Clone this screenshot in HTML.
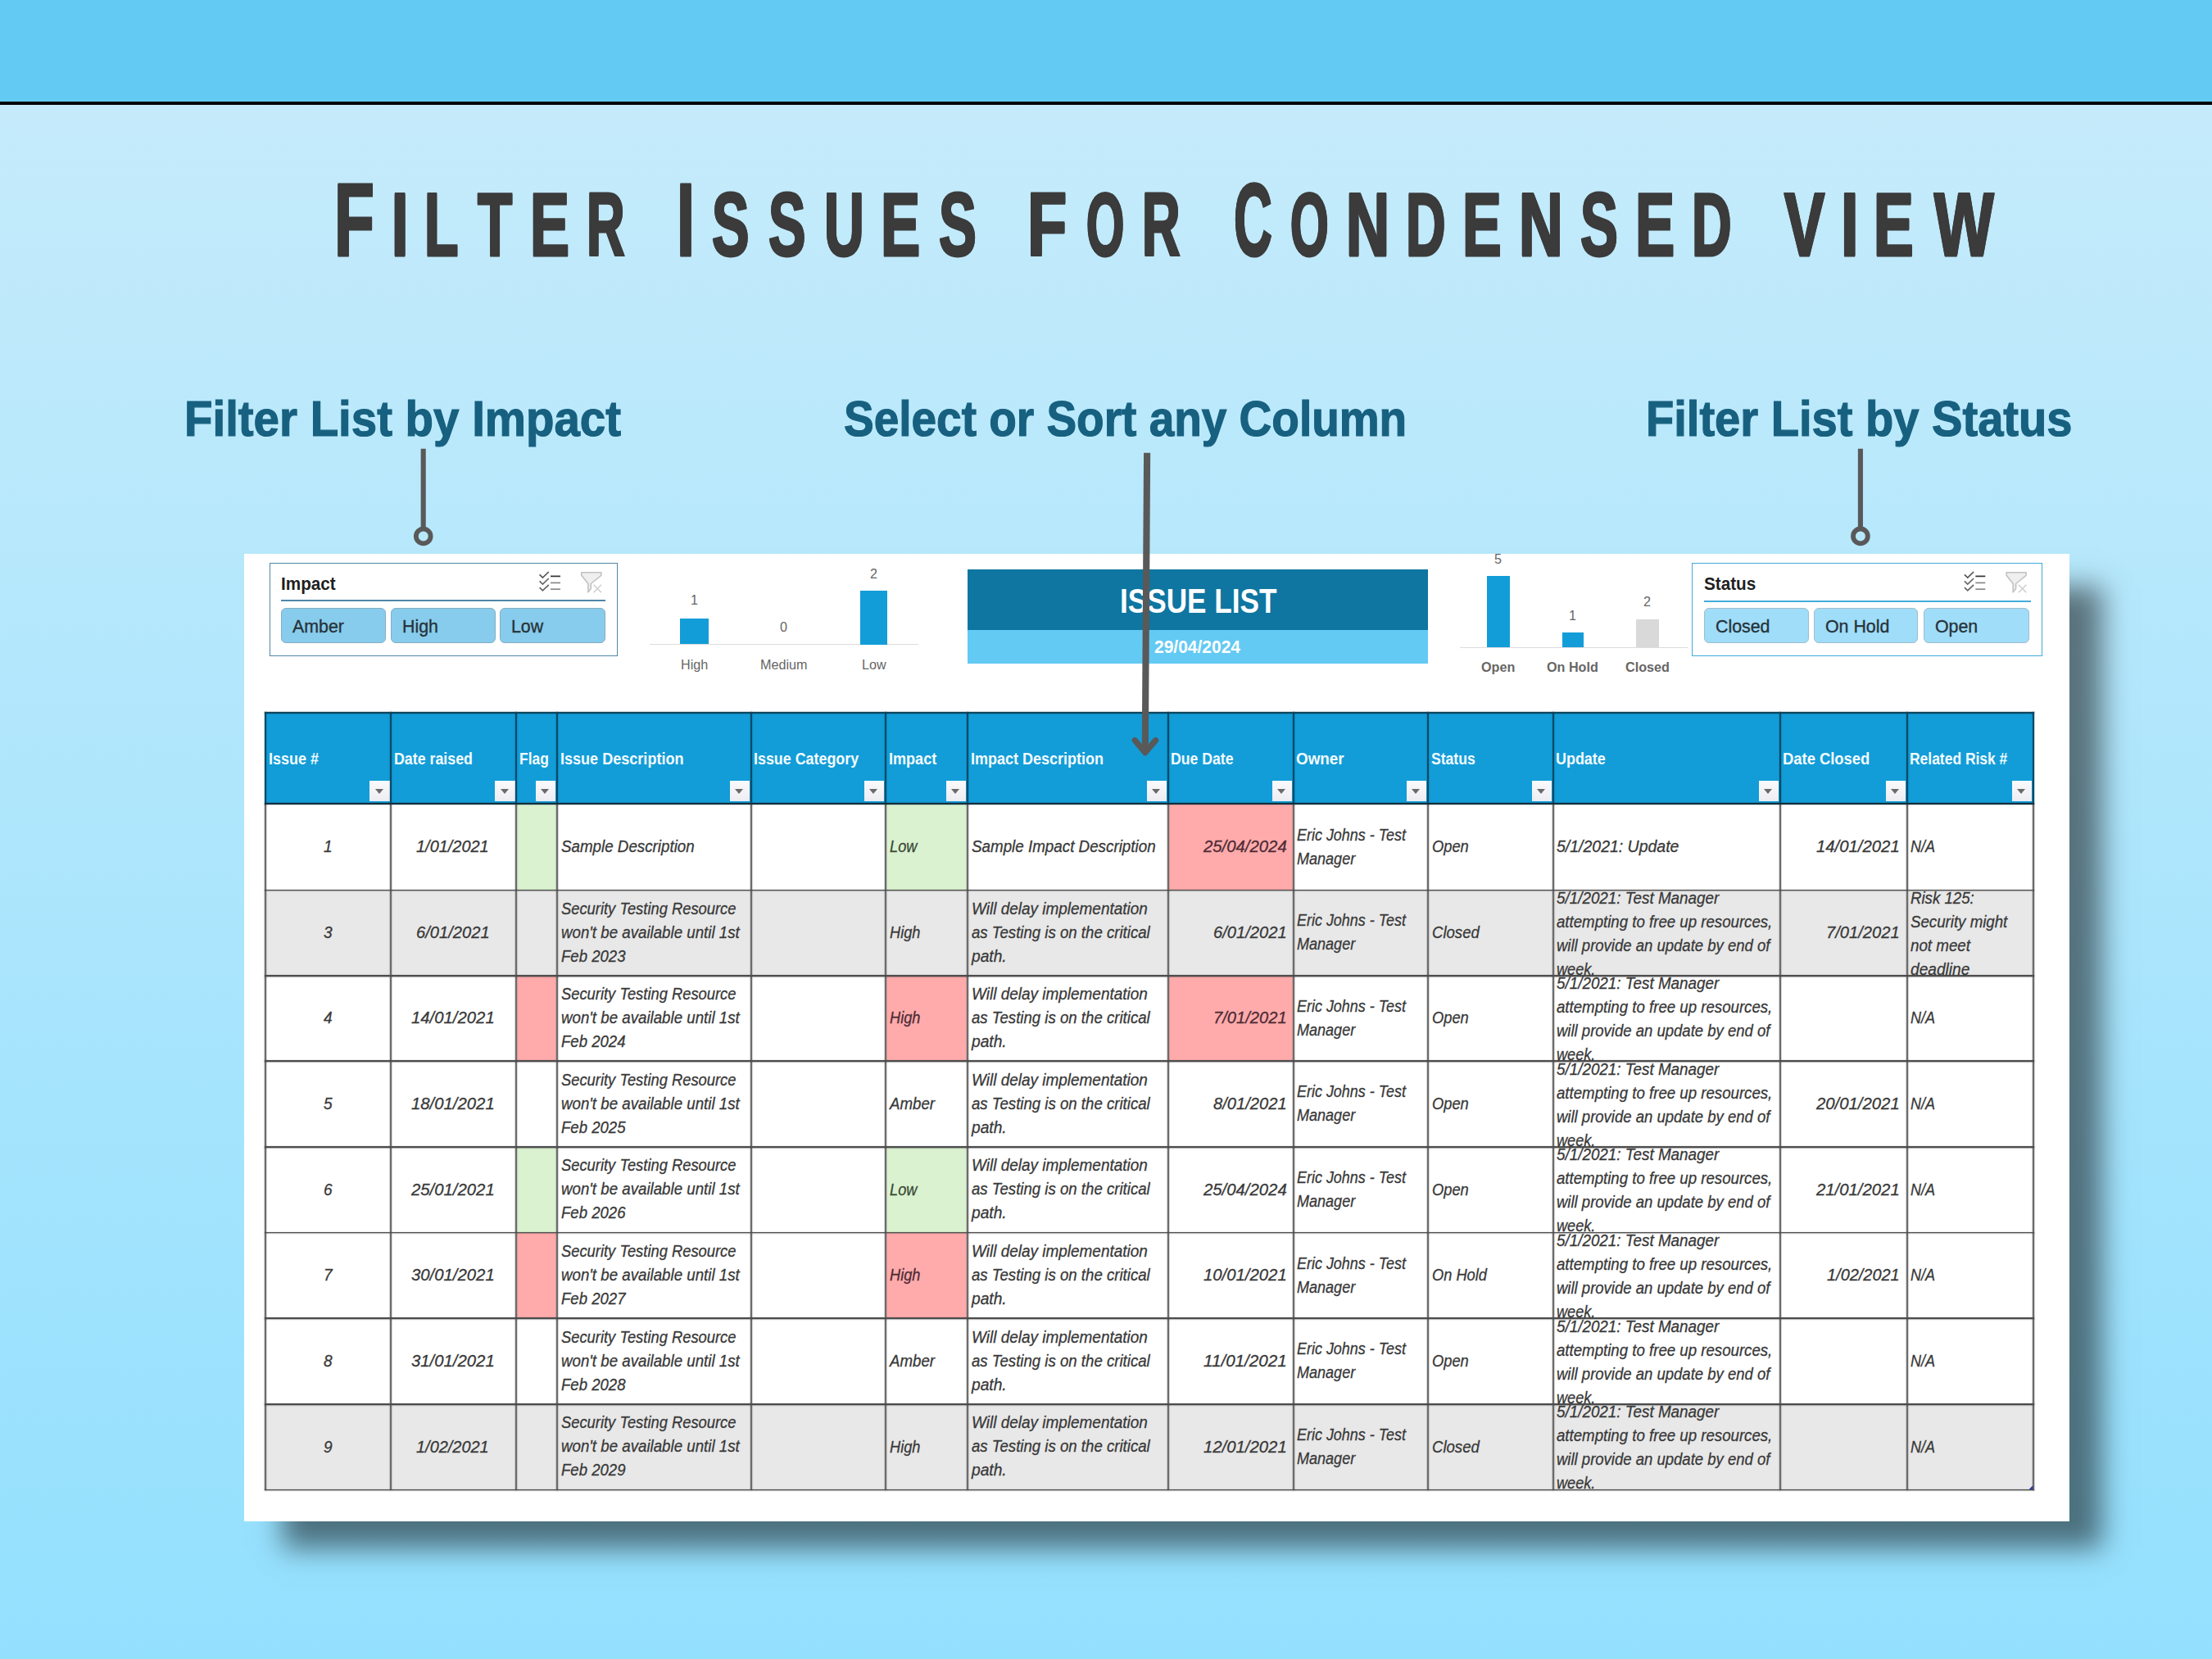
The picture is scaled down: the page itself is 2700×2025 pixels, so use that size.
<!DOCTYPE html>
<html><head><meta charset="utf-8"><title>Filter Issues for Condensed view</title>
<style>
html,body{margin:0;padding:0}
html,body{width:2700px;height:2025px}
body{font-family:"Liberation Sans", sans-serif;}
#page{position:relative;width:2700px;height:2025px;overflow:hidden;background:linear-gradient(to bottom,#c5ebfb 0px,#c5ebfb 128px,#93e0fe 2025px);}
</style></head><body><div id="page">
<div style="position:absolute;left:0.0px;top:0.0px;width:2700.0px;height:124.5px;background:#63caf3;"></div>
<div style="position:absolute;left:0.0px;top:124.2px;width:2700.0px;height:4.0px;background:#05050a;"></div>
<span style="position:absolute;left:407.97px;top:192.51px;font-size:126.45px;line-height:151.74px;font-weight:bold;color:#3b3b3b;-webkit-text-stroke:3.0px #3b3b3b;text-shadow:1.7px 0 0 #3b3b3b,-1.7px 0 0 #3b3b3b;transform:scaleX(0.6336);transform-origin:0 0;white-space:nowrap">F</span>
<span style="position:absolute;left:478.25px;top:208.75px;font-size:109.30px;line-height:131.16px;font-weight:bold;color:#3b3b3b;-webkit-text-stroke:3.0px #3b3b3b;text-shadow:1.7px 0 0 #3b3b3b,-1.7px 0 0 #3b3b3b;transform:scaleX(0.6683);transform-origin:0 0;white-space:nowrap">I</span>
<span style="position:absolute;left:518.45px;top:208.75px;font-size:109.30px;line-height:131.16px;font-weight:bold;color:#3b3b3b;-webkit-text-stroke:3.0px #3b3b3b;text-shadow:1.7px 0 0 #3b3b3b,-1.7px 0 0 #3b3b3b;transform:scaleX(0.6209);transform-origin:0 0;white-space:nowrap">L</span>
<span style="position:absolute;left:583.25px;top:208.75px;font-size:109.30px;line-height:131.16px;font-weight:bold;color:#3b3b3b;-webkit-text-stroke:3.0px #3b3b3b;text-shadow:1.7px 0 0 #3b3b3b,-1.7px 0 0 #3b3b3b;transform:scaleX(0.6317);transform-origin:0 0;white-space:nowrap">T</span>
<span style="position:absolute;left:646.59px;top:208.75px;font-size:109.30px;line-height:131.16px;font-weight:bold;color:#3b3b3b;-webkit-text-stroke:3.0px #3b3b3b;text-shadow:1.7px 0 0 #3b3b3b,-1.7px 0 0 #3b3b3b;transform:scaleX(0.6586);transform-origin:0 0;white-space:nowrap">E</span>
<span style="position:absolute;left:716.27px;top:208.75px;font-size:109.30px;line-height:131.16px;font-weight:bold;color:#3b3b3b;-webkit-text-stroke:3.0px #3b3b3b;text-shadow:1.7px 0 0 #3b3b3b,-1.7px 0 0 #3b3b3b;transform:scaleX(0.5912);transform-origin:0 0;white-space:nowrap">R</span>
<span style="position:absolute;left:825.61px;top:192.51px;font-size:126.45px;line-height:151.74px;font-weight:bold;color:#3b3b3b;-webkit-text-stroke:3.0px #3b3b3b;text-shadow:1.7px 0 0 #3b3b3b,-1.7px 0 0 #3b3b3b;transform:scaleX(0.6256);transform-origin:0 0;white-space:nowrap">I</span>
<span style="position:absolute;left:868.93px;top:208.75px;font-size:109.30px;line-height:131.16px;font-weight:bold;color:#3b3b3b;-webkit-text-stroke:3.0px #3b3b3b;text-shadow:1.7px 0 0 #3b3b3b,-1.7px 0 0 #3b3b3b;transform:scaleX(0.6232);transform-origin:0 0;white-space:nowrap">S</span>
<span style="position:absolute;left:938.33px;top:208.75px;font-size:109.30px;line-height:131.16px;font-weight:bold;color:#3b3b3b;-webkit-text-stroke:3.0px #3b3b3b;text-shadow:1.7px 0 0 #3b3b3b,-1.7px 0 0 #3b3b3b;transform:scaleX(0.6232);transform-origin:0 0;white-space:nowrap">S</span>
<span style="position:absolute;left:1005.92px;top:208.75px;font-size:109.30px;line-height:131.16px;font-weight:bold;color:#3b3b3b;-webkit-text-stroke:3.0px #3b3b3b;text-shadow:1.7px 0 0 #3b3b3b,-1.7px 0 0 #3b3b3b;transform:scaleX(0.6172);transform-origin:0 0;white-space:nowrap">U</span>
<span style="position:absolute;left:1074.69px;top:208.75px;font-size:109.30px;line-height:131.16px;font-weight:bold;color:#3b3b3b;-webkit-text-stroke:3.0px #3b3b3b;text-shadow:1.7px 0 0 #3b3b3b,-1.7px 0 0 #3b3b3b;transform:scaleX(0.6600);transform-origin:0 0;white-space:nowrap">E</span>
<span style="position:absolute;left:1145.83px;top:208.75px;font-size:109.30px;line-height:131.16px;font-weight:bold;color:#3b3b3b;-webkit-text-stroke:3.0px #3b3b3b;text-shadow:1.7px 0 0 #3b3b3b,-1.7px 0 0 #3b3b3b;transform:scaleX(0.6288);transform-origin:0 0;white-space:nowrap">S</span>
<span style="position:absolute;left:1254.04px;top:208.75px;font-size:109.30px;line-height:131.16px;font-weight:bold;color:#3b3b3b;-webkit-text-stroke:3.0px #3b3b3b;text-shadow:1.7px 0 0 #3b3b3b,-1.7px 0 0 #3b3b3b;transform:scaleX(0.7195);transform-origin:0 0;white-space:nowrap">F</span>
<span style="position:absolute;left:1325.60px;top:208.75px;font-size:109.30px;line-height:131.16px;font-weight:bold;color:#3b3b3b;-webkit-text-stroke:3.0px #3b3b3b;text-shadow:1.7px 0 0 #3b3b3b,-1.7px 0 0 #3b3b3b;transform:scaleX(0.5440);transform-origin:0 0;white-space:nowrap">O</span>
<span style="position:absolute;left:1393.57px;top:208.75px;font-size:109.30px;line-height:131.16px;font-weight:bold;color:#3b3b3b;-webkit-text-stroke:3.0px #3b3b3b;text-shadow:1.7px 0 0 #3b3b3b,-1.7px 0 0 #3b3b3b;transform:scaleX(0.5899);transform-origin:0 0;white-space:nowrap">R</span>
<span style="position:absolute;left:1505.68px;top:192.51px;font-size:126.45px;line-height:151.74px;font-weight:bold;color:#3b3b3b;-webkit-text-stroke:3.0px #3b3b3b;text-shadow:1.7px 0 0 #3b3b3b,-1.7px 0 0 #3b3b3b;transform:scaleX(0.5130);transform-origin:0 0;white-space:nowrap">C</span>
<span style="position:absolute;left:1575.40px;top:208.75px;font-size:109.30px;line-height:131.16px;font-weight:bold;color:#3b3b3b;-webkit-text-stroke:3.0px #3b3b3b;text-shadow:1.7px 0 0 #3b3b3b,-1.7px 0 0 #3b3b3b;transform:scaleX(0.5489);transform-origin:0 0;white-space:nowrap">O</span>
<span style="position:absolute;left:1642.54px;top:208.75px;font-size:109.30px;line-height:131.16px;font-weight:bold;color:#3b3b3b;-webkit-text-stroke:3.0px #3b3b3b;text-shadow:1.7px 0 0 #3b3b3b,-1.7px 0 0 #3b3b3b;transform:scaleX(0.6723);transform-origin:0 0;white-space:nowrap">N</span>
<span style="position:absolute;left:1715.57px;top:208.75px;font-size:109.30px;line-height:131.16px;font-weight:bold;color:#3b3b3b;-webkit-text-stroke:3.0px #3b3b3b;text-shadow:1.7px 0 0 #3b3b3b,-1.7px 0 0 #3b3b3b;transform:scaleX(0.6155);transform-origin:0 0;white-space:nowrap">D</span>
<span style="position:absolute;left:1784.81px;top:208.75px;font-size:109.30px;line-height:131.16px;font-weight:bold;color:#3b3b3b;-webkit-text-stroke:3.0px #3b3b3b;text-shadow:1.7px 0 0 #3b3b3b,-1.7px 0 0 #3b3b3b;transform:scaleX(0.6541);transform-origin:0 0;white-space:nowrap">E</span>
<span style="position:absolute;left:1853.81px;top:208.75px;font-size:109.30px;line-height:131.16px;font-weight:bold;color:#3b3b3b;-webkit-text-stroke:3.0px #3b3b3b;text-shadow:1.7px 0 0 #3b3b3b,-1.7px 0 0 #3b3b3b;transform:scaleX(0.6793);transform-origin:0 0;white-space:nowrap">N</span>
<span style="position:absolute;left:1928.83px;top:208.75px;font-size:109.30px;line-height:131.16px;font-weight:bold;color:#3b3b3b;-webkit-text-stroke:3.0px #3b3b3b;text-shadow:1.7px 0 0 #3b3b3b,-1.7px 0 0 #3b3b3b;transform:scaleX(0.6288);transform-origin:0 0;white-space:nowrap">S</span>
<span style="position:absolute;left:1995.69px;top:208.75px;font-size:109.30px;line-height:131.16px;font-weight:bold;color:#3b3b3b;-webkit-text-stroke:3.0px #3b3b3b;text-shadow:1.7px 0 0 #3b3b3b,-1.7px 0 0 #3b3b3b;transform:scaleX(0.6600);transform-origin:0 0;white-space:nowrap">E</span>
<span style="position:absolute;left:2065.47px;top:208.75px;font-size:109.30px;line-height:131.16px;font-weight:bold;color:#3b3b3b;-webkit-text-stroke:3.0px #3b3b3b;text-shadow:1.7px 0 0 #3b3b3b,-1.7px 0 0 #3b3b3b;transform:scaleX(0.6155);transform-origin:0 0;white-space:nowrap">D</span>
<span style="position:absolute;left:2177.65px;top:208.75px;font-size:109.30px;line-height:131.16px;font-weight:bold;color:#3b3b3b;-webkit-text-stroke:3.0px #3b3b3b;text-shadow:1.7px 0 0 #3b3b3b,-1.7px 0 0 #3b3b3b;transform:scaleX(0.6734);transform-origin:0 0;white-space:nowrap">V</span>
<span style="position:absolute;left:2247.20px;top:208.75px;font-size:109.30px;line-height:131.16px;font-weight:bold;color:#3b3b3b;-webkit-text-stroke:3.0px #3b3b3b;text-shadow:1.7px 0 0 #3b3b3b,-1.7px 0 0 #3b3b3b;transform:scaleX(0.7045);transform-origin:0 0;white-space:nowrap">I</span>
<span style="position:absolute;left:2286.96px;top:208.75px;font-size:109.30px;line-height:131.16px;font-weight:bold;color:#3b3b3b;-webkit-text-stroke:3.0px #3b3b3b;text-shadow:1.7px 0 0 #3b3b3b,-1.7px 0 0 #3b3b3b;transform:scaleX(0.6674);transform-origin:0 0;white-space:nowrap">E</span>
<span style="position:absolute;left:2361.28px;top:208.75px;font-size:109.30px;line-height:131.16px;font-weight:bold;color:#3b3b3b;-webkit-text-stroke:3.0px #3b3b3b;text-shadow:1.7px 0 0 #3b3b3b,-1.7px 0 0 #3b3b3b;transform:scaleX(0.7032);transform-origin:0 0;white-space:nowrap">W</span>
<div style="position:absolute;left:297.5px;top:675.5px;width:2228.8px;height:1181.5px;background:#fff;box-shadow:43px 36.5px 32px -3.5px rgba(0,0,0,0.50);"></div>
<div style="position:absolute;left:328.8px;top:687.0px;width:425.2px;height:113.8px;background:#fff;box-sizing:border-box;border:1.8px solid #4f86a8;"></div>
<div style="position:absolute;left:343.3px;top:732.0px;width:396.2px;height:1.6px;background:#4f86a8;"></div>
<div style="position:absolute;left:343.0px;top:741.7px;width:128.0px;height:42.9px;background:#87ccec;box-sizing:border-box;border:1.5px solid #86adc2;border-radius:6px;"></div>
<div style="position:absolute;left:477.0px;top:741.7px;width:127.6px;height:42.9px;background:#87ccec;box-sizing:border-box;border:1.5px solid #86adc2;border-radius:6px;"></div>
<div style="position:absolute;left:610.0px;top:741.7px;width:129.0px;height:42.9px;background:#87ccec;box-sizing:border-box;border:1.5px solid #86adc2;border-radius:6px;"></div>
<div style="position:absolute;left:2065.3px;top:687.0px;width:428.2px;height:113.8px;background:#fff;box-sizing:border-box;border:1.7px solid #43abdb;"></div>
<div style="position:absolute;left:2079.8px;top:733.3px;width:399.2px;height:1.6px;background:#43abdb;"></div>
<div style="position:absolute;left:2080.3px;top:741.7px;width:127.4px;height:42.9px;background:#9fddf9;box-sizing:border-box;border:1.5px solid #a2bccb;border-radius:6px;"></div>
<div style="position:absolute;left:2214.2px;top:741.7px;width:127.3px;height:42.9px;background:#9fddf9;box-sizing:border-box;border:1.5px solid #a2bccb;border-radius:6px;"></div>
<div style="position:absolute;left:2347.6px;top:741.7px;width:129.4px;height:42.9px;background:#9fddf9;box-sizing:border-box;border:1.5px solid #a2bccb;border-radius:6px;"></div>
<div style="position:absolute;left:793.0px;top:786.2px;width:328.0px;height:1.2px;background:#dcdcdc;"></div>
<div style="position:absolute;left:830.4px;top:754.7px;width:34.2px;height:31.8px;background:#139dd8;"></div>
<div style="position:absolute;left:1049.7px;top:720.5px;width:33.8px;height:66.0px;background:#139dd8;"></div>
<div style="position:absolute;left:1782.0px;top:789.6px;width:278.0px;height:1.2px;background:#dcdcdc;"></div>
<div style="position:absolute;left:1814.8px;top:702.6px;width:28.0px;height:87.1px;background:#139dd8;"></div>
<div style="position:absolute;left:1906.7px;top:772.2px;width:26.3px;height:17.5px;background:#139dd8;"></div>
<div style="position:absolute;left:1997.0px;top:756.4px;width:27.7px;height:33.3px;background:#d9d9d9;"></div>
<div style="position:absolute;left:1180.5px;top:695.0px;width:562.5px;height:73.8px;background:#0f76a1;"></div>
<div style="position:absolute;left:1180.5px;top:768.6px;width:562.5px;height:41.4px;background:#63caf3;"></div>
<div style="position:absolute;left:323.5px;top:870.0px;width:2158.5px;height:111.4px;background:#129dd8;"></div>
<div style="position:absolute;left:630.2px;top:981.4px;width:49.8px;height:104.9px;background:#daf2d0;"></div>
<div style="position:absolute;left:1081.0px;top:981.4px;width:100.0px;height:104.9px;background:#daf2d0;"></div>
<div style="position:absolute;left:1425.6px;top:981.4px;width:152.9px;height:104.9px;background:#ffabab;"></div>
<div style="position:absolute;left:323.5px;top:1086.3px;width:2158.5px;height:104.5px;background:#e8e8e8;"></div>
<div style="position:absolute;left:630.2px;top:1190.8px;width:49.8px;height:104.4px;background:#ffabab;"></div>
<div style="position:absolute;left:1081.0px;top:1190.8px;width:100.0px;height:104.4px;background:#ffabab;"></div>
<div style="position:absolute;left:1425.6px;top:1190.8px;width:152.9px;height:104.4px;background:#ffabab;"></div>
<div style="position:absolute;left:630.2px;top:1399.8px;width:49.8px;height:104.8px;background:#daf2d0;"></div>
<div style="position:absolute;left:1081.0px;top:1399.8px;width:100.0px;height:104.8px;background:#daf2d0;"></div>
<div style="position:absolute;left:630.2px;top:1504.6px;width:49.8px;height:104.4px;background:#ffabab;"></div>
<div style="position:absolute;left:1081.0px;top:1504.6px;width:100.0px;height:104.4px;background:#ffabab;"></div>
<div style="position:absolute;left:323.5px;top:1713.8px;width:2158.5px;height:104.6px;background:#e8e8e8;"></div>
<div style="position:absolute;left:451.4px;top:953.2px;width:24.2px;height:25.0px;background:linear-gradient(#fbfbfd,#ececf2);"></div>
<div style="position:absolute;left:457.6px;top:963.2px;width:0;height:0;border-left:5.8px solid transparent;border-right:5.8px solid transparent;border-top:6.6px solid #6a6a6a"></div>
<div style="position:absolute;left:604.4px;top:953.2px;width:24.2px;height:25.0px;background:linear-gradient(#fbfbfd,#ececf2);"></div>
<div style="position:absolute;left:610.6px;top:963.2px;width:0;height:0;border-left:5.8px solid transparent;border-right:5.8px solid transparent;border-top:6.6px solid #6a6a6a"></div>
<div style="position:absolute;left:654.2px;top:953.2px;width:24.2px;height:25.0px;background:linear-gradient(#fbfbfd,#ececf2);"></div>
<div style="position:absolute;left:660.4px;top:963.2px;width:0;height:0;border-left:5.8px solid transparent;border-right:5.8px solid transparent;border-top:6.6px solid #6a6a6a"></div>
<div style="position:absolute;left:890.7px;top:953.2px;width:24.2px;height:25.0px;background:linear-gradient(#fbfbfd,#ececf2);"></div>
<div style="position:absolute;left:896.9px;top:963.2px;width:0;height:0;border-left:5.8px solid transparent;border-right:5.8px solid transparent;border-top:6.6px solid #6a6a6a"></div>
<div style="position:absolute;left:1055.2px;top:953.2px;width:24.2px;height:25.0px;background:linear-gradient(#fbfbfd,#ececf2);"></div>
<div style="position:absolute;left:1061.4px;top:963.2px;width:0;height:0;border-left:5.8px solid transparent;border-right:5.8px solid transparent;border-top:6.6px solid #6a6a6a"></div>
<div style="position:absolute;left:1155.2px;top:953.2px;width:24.2px;height:25.0px;background:linear-gradient(#fbfbfd,#ececf2);"></div>
<div style="position:absolute;left:1161.4px;top:963.2px;width:0;height:0;border-left:5.8px solid transparent;border-right:5.8px solid transparent;border-top:6.6px solid #6a6a6a"></div>
<div style="position:absolute;left:1399.8px;top:953.2px;width:24.2px;height:25.0px;background:linear-gradient(#fbfbfd,#ececf2);"></div>
<div style="position:absolute;left:1406.0px;top:963.2px;width:0;height:0;border-left:5.8px solid transparent;border-right:5.8px solid transparent;border-top:6.6px solid #6a6a6a"></div>
<div style="position:absolute;left:1552.7px;top:953.2px;width:24.2px;height:25.0px;background:linear-gradient(#fbfbfd,#ececf2);"></div>
<div style="position:absolute;left:1558.9px;top:963.2px;width:0;height:0;border-left:5.8px solid transparent;border-right:5.8px solid transparent;border-top:6.6px solid #6a6a6a"></div>
<div style="position:absolute;left:1717.2px;top:953.2px;width:24.2px;height:25.0px;background:linear-gradient(#fbfbfd,#ececf2);"></div>
<div style="position:absolute;left:1723.4px;top:963.2px;width:0;height:0;border-left:5.8px solid transparent;border-right:5.8px solid transparent;border-top:6.6px solid #6a6a6a"></div>
<div style="position:absolute;left:1869.8px;top:953.2px;width:24.2px;height:25.0px;background:linear-gradient(#fbfbfd,#ececf2);"></div>
<div style="position:absolute;left:1876.0px;top:963.2px;width:0;height:0;border-left:5.8px solid transparent;border-right:5.8px solid transparent;border-top:6.6px solid #6a6a6a"></div>
<div style="position:absolute;left:2146.8px;top:953.2px;width:24.2px;height:25.0px;background:linear-gradient(#fbfbfd,#ececf2);"></div>
<div style="position:absolute;left:2153.0px;top:963.2px;width:0;height:0;border-left:5.8px solid transparent;border-right:5.8px solid transparent;border-top:6.6px solid #6a6a6a"></div>
<div style="position:absolute;left:2301.8px;top:953.2px;width:24.2px;height:25.0px;background:linear-gradient(#fbfbfd,#ececf2);"></div>
<div style="position:absolute;left:2308.0px;top:963.2px;width:0;height:0;border-left:5.8px solid transparent;border-right:5.8px solid transparent;border-top:6.6px solid #6a6a6a"></div>
<div style="position:absolute;left:2456.2px;top:953.2px;width:24.2px;height:25.0px;background:linear-gradient(#fbfbfd,#ececf2);"></div>
<div style="position:absolute;left:2462.4px;top:963.2px;width:0;height:0;border-left:5.8px solid transparent;border-right:5.8px solid transparent;border-top:6.6px solid #6a6a6a"></div>
<div style="position:absolute;left:322.5px;top:869.0px;width:2.0px;height:113.4px;background:#064a68;box-shadow:0 0 1px 0.2px rgba(6,74,104,.7);"></div>
<div style="position:absolute;left:322.5px;top:982.4px;width:2.0px;height:836.8px;background:#6c6c6c;box-shadow:0 0 1px 0.3px rgba(105,105,105,.75);"></div>
<div style="position:absolute;left:476.2px;top:869.0px;width:2.0px;height:113.4px;background:#064a68;box-shadow:0 0 1px 0.2px rgba(6,74,104,.7);"></div>
<div style="position:absolute;left:476.2px;top:982.4px;width:2.0px;height:836.8px;background:#6c6c6c;box-shadow:0 0 1px 0.3px rgba(105,105,105,.75);"></div>
<div style="position:absolute;left:629.2px;top:869.0px;width:2.0px;height:113.4px;background:#064a68;box-shadow:0 0 1px 0.2px rgba(6,74,104,.7);"></div>
<div style="position:absolute;left:629.2px;top:982.4px;width:2.0px;height:836.8px;background:#6c6c6c;box-shadow:0 0 1px 0.3px rgba(105,105,105,.75);"></div>
<div style="position:absolute;left:679.0px;top:869.0px;width:2.0px;height:113.4px;background:#064a68;box-shadow:0 0 1px 0.2px rgba(6,74,104,.7);"></div>
<div style="position:absolute;left:679.0px;top:982.4px;width:2.0px;height:836.8px;background:#6c6c6c;box-shadow:0 0 1px 0.3px rgba(105,105,105,.75);"></div>
<div style="position:absolute;left:915.5px;top:869.0px;width:2.0px;height:113.4px;background:#064a68;box-shadow:0 0 1px 0.2px rgba(6,74,104,.7);"></div>
<div style="position:absolute;left:915.5px;top:982.4px;width:2.0px;height:836.8px;background:#6c6c6c;box-shadow:0 0 1px 0.3px rgba(105,105,105,.75);"></div>
<div style="position:absolute;left:1080.0px;top:869.0px;width:2.0px;height:113.4px;background:#064a68;box-shadow:0 0 1px 0.2px rgba(6,74,104,.7);"></div>
<div style="position:absolute;left:1080.0px;top:982.4px;width:2.0px;height:836.8px;background:#6c6c6c;box-shadow:0 0 1px 0.3px rgba(105,105,105,.75);"></div>
<div style="position:absolute;left:1180.0px;top:869.0px;width:2.0px;height:113.4px;background:#064a68;box-shadow:0 0 1px 0.2px rgba(6,74,104,.7);"></div>
<div style="position:absolute;left:1180.0px;top:982.4px;width:2.0px;height:836.8px;background:#6c6c6c;box-shadow:0 0 1px 0.3px rgba(105,105,105,.75);"></div>
<div style="position:absolute;left:1424.6px;top:869.0px;width:2.0px;height:113.4px;background:#064a68;box-shadow:0 0 1px 0.2px rgba(6,74,104,.7);"></div>
<div style="position:absolute;left:1424.6px;top:982.4px;width:2.0px;height:836.8px;background:#6c6c6c;box-shadow:0 0 1px 0.3px rgba(105,105,105,.75);"></div>
<div style="position:absolute;left:1577.5px;top:869.0px;width:2.0px;height:113.4px;background:#064a68;box-shadow:0 0 1px 0.2px rgba(6,74,104,.7);"></div>
<div style="position:absolute;left:1577.5px;top:982.4px;width:2.0px;height:836.8px;background:#6c6c6c;box-shadow:0 0 1px 0.3px rgba(105,105,105,.75);"></div>
<div style="position:absolute;left:1742.0px;top:869.0px;width:2.0px;height:113.4px;background:#064a68;box-shadow:0 0 1px 0.2px rgba(6,74,104,.7);"></div>
<div style="position:absolute;left:1742.0px;top:982.4px;width:2.0px;height:836.8px;background:#6c6c6c;box-shadow:0 0 1px 0.3px rgba(105,105,105,.75);"></div>
<div style="position:absolute;left:1894.6px;top:869.0px;width:2.0px;height:113.4px;background:#064a68;box-shadow:0 0 1px 0.2px rgba(6,74,104,.7);"></div>
<div style="position:absolute;left:1894.6px;top:982.4px;width:2.0px;height:836.8px;background:#6c6c6c;box-shadow:0 0 1px 0.3px rgba(105,105,105,.75);"></div>
<div style="position:absolute;left:2171.6px;top:869.0px;width:2.0px;height:113.4px;background:#064a68;box-shadow:0 0 1px 0.2px rgba(6,74,104,.7);"></div>
<div style="position:absolute;left:2171.6px;top:982.4px;width:2.0px;height:836.8px;background:#6c6c6c;box-shadow:0 0 1px 0.3px rgba(105,105,105,.75);"></div>
<div style="position:absolute;left:2326.6px;top:869.0px;width:2.0px;height:113.4px;background:#064a68;box-shadow:0 0 1px 0.2px rgba(6,74,104,.7);"></div>
<div style="position:absolute;left:2326.6px;top:982.4px;width:2.0px;height:836.8px;background:#6c6c6c;box-shadow:0 0 1px 0.3px rgba(105,105,105,.75);"></div>
<div style="position:absolute;left:2481.0px;top:869.0px;width:2.0px;height:113.4px;background:#064a68;box-shadow:0 0 1px 0.2px rgba(6,74,104,.7);"></div>
<div style="position:absolute;left:2481.0px;top:982.4px;width:2.0px;height:836.8px;background:#6c6c6c;box-shadow:0 0 1px 0.3px rgba(105,105,105,.75);"></div>
<div style="position:absolute;left:322.5px;top:869.0px;width:2160.5px;height:2.0px;background:#0d4560;box-shadow:0 0 1px 0.2px rgba(20,50,64,.6);"></div>
<div style="position:absolute;left:322.5px;top:980.4px;width:2160.5px;height:2.0px;background:#14303c;box-shadow:0 0 1px 0.2px rgba(20,50,64,.6);"></div>
<div style="position:absolute;left:322.5px;top:1085.5px;width:2160.5px;height:1.6px;background:#4c4c4c;box-shadow:0 0.2px 1.2px 0.2px rgba(70,70,70,.7);"></div>
<div style="position:absolute;left:322.5px;top:1190.0px;width:2160.5px;height:1.6px;background:#4c4c4c;box-shadow:0 0.2px 1.2px 0.2px rgba(70,70,70,.7);"></div>
<div style="position:absolute;left:322.5px;top:1294.4px;width:2160.5px;height:1.6px;background:#4c4c4c;box-shadow:0 0.2px 1.2px 0.2px rgba(70,70,70,.7);"></div>
<div style="position:absolute;left:322.5px;top:1399.0px;width:2160.5px;height:1.6px;background:#4c4c4c;box-shadow:0 0.2px 1.2px 0.2px rgba(70,70,70,.7);"></div>
<div style="position:absolute;left:322.5px;top:1503.8px;width:2160.5px;height:1.6px;background:#4c4c4c;box-shadow:0 0.2px 1.2px 0.2px rgba(70,70,70,.7);"></div>
<div style="position:absolute;left:322.5px;top:1608.2px;width:2160.5px;height:1.6px;background:#4c4c4c;box-shadow:0 0.2px 1.2px 0.2px rgba(70,70,70,.7);"></div>
<div style="position:absolute;left:322.5px;top:1713.0px;width:2160.5px;height:1.6px;background:#4c4c4c;box-shadow:0 0.2px 1.2px 0.2px rgba(70,70,70,.7);"></div>
<div style="position:absolute;left:322.5px;top:1817.6px;width:2160.5px;height:1.6px;background:#4c4c4c;box-shadow:0 0.2px 1.2px 0.2px rgba(70,70,70,.7);"></div>
<div style="position:absolute;left:2476.5px;top:1813.0px;width:5.0px;height:5.0px;background:#2f3e9e;clip-path:polygon(100% 0,100% 100%,0 100%);"></div>
<span style="position:absolute;left:225.2px;top:473.8px;font-size:62px;font-weight:bold;font-style:normal;letter-spacing:0px;white-space:nowrap;line-height:74.4px;color:#17607f;transform:scaleX(0.9101);transform-origin:0 0;-webkit-text-stroke:1.2px #17607f;">Filter List by Impact</span>
<span style="position:absolute;left:1030.0px;top:473.8px;font-size:62px;font-weight:bold;font-style:normal;letter-spacing:0px;white-space:nowrap;line-height:74.4px;color:#17607f;transform:scaleX(0.8865);transform-origin:0 0;-webkit-text-stroke:1.2px #17607f;">Select or Sort any Column</span>
<span style="position:absolute;left:2009.4px;top:473.8px;font-size:62px;font-weight:bold;font-style:normal;letter-spacing:0px;white-space:nowrap;line-height:74.4px;color:#17607f;transform:scaleX(0.9047);transform-origin:0 0;-webkit-text-stroke:1.2px #17607f;">Filter List by Status</span>
<span style="position:absolute;left:343.3px;top:698.5px;font-size:22.5px;font-weight:bold;font-style:normal;letter-spacing:0px;white-space:nowrap;line-height:27.0px;color:#1f1f1f;transform:scaleX(0.9200);transform-origin:0 0;">Impact</span>
<span style="position:absolute;left:357.0px;top:752.2px;font-size:22px;font-weight:normal;font-style:normal;letter-spacing:0px;white-space:nowrap;line-height:26.4px;color:#26323a;transform:scaleX(0.9700);transform-origin:0 0;-webkit-text-stroke:0.35px #26323a;">Amber</span>
<span style="position:absolute;left:491.0px;top:752.2px;font-size:22px;font-weight:normal;font-style:normal;letter-spacing:0px;white-space:nowrap;line-height:26.4px;color:#26323a;transform:scaleX(0.9700);transform-origin:0 0;-webkit-text-stroke:0.35px #26323a;">High</span>
<span style="position:absolute;left:624.0px;top:752.2px;font-size:22px;font-weight:normal;font-style:normal;letter-spacing:0px;white-space:nowrap;line-height:26.4px;color:#26323a;transform:scaleX(0.9700);transform-origin:0 0;-webkit-text-stroke:0.35px #26323a;">Low</span>
<span style="position:absolute;left:2079.8px;top:698.5px;font-size:22.5px;font-weight:bold;font-style:normal;letter-spacing:0px;white-space:nowrap;line-height:27.0px;color:#1f1f1f;transform:scaleX(0.9200);transform-origin:0 0;">Status</span>
<span style="position:absolute;left:2094.3px;top:752.2px;font-size:22px;font-weight:normal;font-style:normal;letter-spacing:0px;white-space:nowrap;line-height:26.4px;color:#26323a;transform:scaleX(0.9700);transform-origin:0 0;-webkit-text-stroke:0.35px #26323a;">Closed</span>
<span style="position:absolute;left:2228.2px;top:752.2px;font-size:22px;font-weight:normal;font-style:normal;letter-spacing:0px;white-space:nowrap;line-height:26.4px;color:#26323a;transform:scaleX(0.9700);transform-origin:0 0;-webkit-text-stroke:0.35px #26323a;">On Hold</span>
<span style="position:absolute;left:2361.6px;top:752.2px;font-size:22px;font-weight:normal;font-style:normal;letter-spacing:0px;white-space:nowrap;line-height:26.4px;color:#26323a;transform:scaleX(0.9700);transform-origin:0 0;-webkit-text-stroke:0.35px #26323a;">Open</span>
<span style="position:absolute;left:843.0px;top:723.4px;font-size:17px;font-weight:normal;font-style:normal;letter-spacing:0px;white-space:nowrap;line-height:20.4px;color:#666;transform:scaleX(0.9500);transform-origin:0 0;">1</span>
<span style="position:absolute;left:952.0px;top:756.4px;font-size:17px;font-weight:normal;font-style:normal;letter-spacing:0px;white-space:nowrap;line-height:20.4px;color:#666;transform:scaleX(0.9500);transform-origin:0 0;">0</span>
<span style="position:absolute;left:1062.1px;top:690.7px;font-size:17px;font-weight:normal;font-style:normal;letter-spacing:0px;white-space:nowrap;line-height:20.4px;color:#666;transform:scaleX(0.9500);transform-origin:0 0;">2</span>
<span style="position:absolute;left:830.9px;top:801.7px;font-size:17px;font-weight:normal;font-style:normal;letter-spacing:0px;white-space:nowrap;line-height:20.4px;color:#666;transform:scaleX(0.9500);transform-origin:0 0;">High</span>
<span style="position:absolute;left:927.8px;top:801.7px;font-size:17px;font-weight:normal;font-style:normal;letter-spacing:0px;white-space:nowrap;line-height:20.4px;color:#666;transform:scaleX(0.9500);transform-origin:0 0;">Medium</span>
<span style="position:absolute;left:1051.8px;top:801.7px;font-size:17px;font-weight:normal;font-style:normal;letter-spacing:0px;white-space:nowrap;line-height:20.4px;color:#666;transform:scaleX(0.9500);transform-origin:0 0;">Low</span>
<span style="position:absolute;left:1824.3px;top:672.7px;font-size:17px;font-weight:normal;font-style:normal;letter-spacing:0px;white-space:nowrap;line-height:20.4px;color:#666;transform:scaleX(0.9500);transform-origin:0 0;">5</span>
<span style="position:absolute;left:1915.3px;top:741.7px;font-size:17px;font-weight:normal;font-style:normal;letter-spacing:0px;white-space:nowrap;line-height:20.4px;color:#666;transform:scaleX(0.9500);transform-origin:0 0;">1</span>
<span style="position:absolute;left:2006.3px;top:725.1px;font-size:17px;font-weight:normal;font-style:normal;letter-spacing:0px;white-space:nowrap;line-height:20.4px;color:#666;transform:scaleX(0.9500);transform-origin:0 0;">2</span>
<span style="position:absolute;left:1808.2px;top:804.7px;font-size:17px;font-weight:bold;font-style:normal;letter-spacing:0px;white-space:nowrap;line-height:20.4px;color:#666;transform:scaleX(0.9500);transform-origin:0 0;">Open</span>
<span style="position:absolute;left:1888.4px;top:804.7px;font-size:17px;font-weight:bold;font-style:normal;letter-spacing:0px;white-space:nowrap;line-height:20.4px;color:#666;transform:scaleX(0.9500);transform-origin:0 0;">On Hold</span>
<span style="position:absolute;left:1983.9px;top:804.7px;font-size:17px;font-weight:bold;font-style:normal;letter-spacing:0px;white-space:nowrap;line-height:20.4px;color:#666;transform:scaleX(0.9500);transform-origin:0 0;">Closed</span>
<span style="position:absolute;left:1366.5px;top:708.6px;font-size:42px;font-weight:bold;font-style:normal;letter-spacing:0px;white-space:nowrap;line-height:50.4px;color:#fff;transform:scaleX(0.8373);transform-origin:0 0;">ISSUE LIST</span>
<span style="position:absolute;left:1409.0px;top:777.8px;font-size:21.3px;font-weight:bold;font-style:normal;letter-spacing:0px;white-space:nowrap;line-height:25.56px;color:#fff;transform:scaleX(0.9850);transform-origin:0 0;">29/04/2024</span>
<span style="position:absolute;left:394.5px;top:1021.2px;font-size:20.5px;font-weight:normal;font-style:italic;letter-spacing:0px;white-space:nowrap;line-height:24.6px;color:#383838;transform:scaleX(0.9300);transform-origin:0 0;-webkit-text-stroke:0.3px currentColor;">1</span>
<span style="position:absolute;left:508.1px;top:1021.2px;font-size:20.5px;font-weight:normal;font-style:italic;letter-spacing:0px;white-space:nowrap;line-height:24.6px;color:#383838;transform:scaleX(0.9726);transform-origin:0 0;-webkit-text-stroke:0.3px currentColor;">1/01/2021</span>
<span style="position:absolute;left:684.6px;top:1021.2px;font-size:20.5px;font-weight:normal;font-style:italic;letter-spacing:0px;white-space:nowrap;line-height:24.6px;color:#383838;transform:scaleX(0.9153);transform-origin:0 0;-webkit-text-stroke:0.3px currentColor;">Sample Description</span>
<span style="position:absolute;left:1085.6px;top:1021.2px;font-size:20.5px;font-weight:normal;font-style:italic;letter-spacing:0px;white-space:nowrap;line-height:24.6px;color:#3a4a35;transform:scaleX(0.8881);transform-origin:0 0;-webkit-text-stroke:0.3px currentColor;">Low</span>
<span style="position:absolute;left:1185.6px;top:1021.2px;font-size:20.5px;font-weight:normal;font-style:italic;letter-spacing:0px;white-space:nowrap;line-height:24.6px;color:#383838;transform:scaleX(0.9169);transform-origin:0 0;-webkit-text-stroke:0.3px currentColor;">Sample Impact Description</span>
<span style="position:absolute;left:1469.3px;top:1021.2px;font-size:20.5px;font-weight:normal;font-style:italic;letter-spacing:0px;white-space:nowrap;line-height:24.6px;color:#4d2a35;transform:scaleX(0.9911);transform-origin:0 0;-webkit-text-stroke:0.3px currentColor;">25/04/2024</span>
<span style="position:absolute;left:1583.1px;top:1006.6px;font-size:20.5px;font-weight:normal;font-style:italic;letter-spacing:0px;white-space:nowrap;line-height:24.6px;color:#383838;transform:scaleX(0.8754);transform-origin:0 0;-webkit-text-stroke:0.3px currentColor;">Eric Johns - Test</span>
<span style="position:absolute;left:1583.1px;top:1035.6px;font-size:20.5px;font-weight:normal;font-style:italic;letter-spacing:0px;white-space:nowrap;line-height:24.6px;color:#383838;transform:scaleX(0.8799);transform-origin:0 0;-webkit-text-stroke:0.3px currentColor;">Manager</span>
<span style="position:absolute;left:1747.6px;top:1021.2px;font-size:20.5px;font-weight:normal;font-style:italic;letter-spacing:0px;white-space:nowrap;line-height:24.6px;color:#383838;transform:scaleX(0.8932);transform-origin:0 0;-webkit-text-stroke:0.3px currentColor;">Open</span>
<span style="position:absolute;left:1900.2px;top:1021.2px;font-size:20.5px;font-weight:normal;font-style:italic;letter-spacing:0px;white-space:nowrap;line-height:24.6px;color:#383838;transform:scaleX(0.9498);transform-origin:0 0;-webkit-text-stroke:0.3px currentColor;">5/1/2021: Update</span>
<span style="position:absolute;left:2216.7px;top:1021.2px;font-size:20.5px;font-weight:normal;font-style:italic;letter-spacing:0px;white-space:nowrap;line-height:24.6px;color:#383838;transform:scaleX(0.9911);transform-origin:0 0;-webkit-text-stroke:0.3px currentColor;">14/01/2021</span>
<span style="position:absolute;left:2332.2px;top:1021.2px;font-size:20.5px;font-weight:normal;font-style:italic;letter-spacing:0px;white-space:nowrap;line-height:24.6px;color:#383838;transform:scaleX(0.8775);transform-origin:0 0;-webkit-text-stroke:0.3px currentColor;">N/A</span>
<span style="position:absolute;left:394.5px;top:1125.9px;font-size:20.5px;font-weight:normal;font-style:italic;letter-spacing:0px;white-space:nowrap;line-height:24.6px;color:#383838;transform:scaleX(0.9300);transform-origin:0 0;-webkit-text-stroke:0.3px currentColor;">3</span>
<span style="position:absolute;left:507.7px;top:1125.9px;font-size:20.5px;font-weight:normal;font-style:italic;letter-spacing:0px;white-space:nowrap;line-height:24.6px;color:#383838;transform:scaleX(0.9824);transform-origin:0 0;-webkit-text-stroke:0.3px currentColor;">6/01/2021</span>
<span style="position:absolute;left:684.6px;top:1096.6px;font-size:20.5px;font-weight:normal;font-style:italic;letter-spacing:0px;white-space:nowrap;line-height:24.6px;color:#383838;transform:scaleX(0.8951);transform-origin:0 0;-webkit-text-stroke:0.3px currentColor;">Security Testing Resource</span>
<span style="position:absolute;left:684.6px;top:1125.6px;font-size:20.5px;font-weight:normal;font-style:italic;letter-spacing:0px;white-space:nowrap;line-height:24.6px;color:#383838;transform:scaleX(0.9121);transform-origin:0 0;-webkit-text-stroke:0.3px currentColor;">won&#39;t be available until 1st</span>
<span style="position:absolute;left:684.6px;top:1154.6px;font-size:20.5px;font-weight:normal;font-style:italic;letter-spacing:0px;white-space:nowrap;line-height:24.6px;color:#383838;transform:scaleX(0.9062);transform-origin:0 0;-webkit-text-stroke:0.3px currentColor;">Feb 2023</span>
<span style="position:absolute;left:1085.6px;top:1125.9px;font-size:20.5px;font-weight:normal;font-style:italic;letter-spacing:0px;white-space:nowrap;line-height:24.6px;color:#383838;transform:scaleX(0.8868);transform-origin:0 0;-webkit-text-stroke:0.3px currentColor;">High</span>
<span style="position:absolute;left:1185.6px;top:1096.6px;font-size:20.5px;font-weight:normal;font-style:italic;letter-spacing:0px;white-space:nowrap;line-height:24.6px;color:#383838;transform:scaleX(0.9249);transform-origin:0 0;-webkit-text-stroke:0.3px currentColor;">Will delay implementation</span>
<span style="position:absolute;left:1185.6px;top:1125.6px;font-size:20.5px;font-weight:normal;font-style:italic;letter-spacing:0px;white-space:nowrap;line-height:24.6px;color:#383838;transform:scaleX(0.9083);transform-origin:0 0;-webkit-text-stroke:0.3px currentColor;">as Testing is on the critical</span>
<span style="position:absolute;left:1185.6px;top:1154.6px;font-size:20.5px;font-weight:normal;font-style:italic;letter-spacing:0px;white-space:nowrap;line-height:24.6px;color:#383838;transform:scaleX(0.9362);transform-origin:0 0;-webkit-text-stroke:0.3px currentColor;">path.</span>
<span style="position:absolute;left:1481.4px;top:1125.9px;font-size:20.5px;font-weight:normal;font-style:italic;letter-spacing:0px;white-space:nowrap;line-height:24.6px;color:#383838;transform:scaleX(0.9824);transform-origin:0 0;-webkit-text-stroke:0.3px currentColor;">6/01/2021</span>
<span style="position:absolute;left:1583.1px;top:1111.3px;font-size:20.5px;font-weight:normal;font-style:italic;letter-spacing:0px;white-space:nowrap;line-height:24.6px;color:#383838;transform:scaleX(0.8754);transform-origin:0 0;-webkit-text-stroke:0.3px currentColor;">Eric Johns - Test</span>
<span style="position:absolute;left:1583.1px;top:1140.3px;font-size:20.5px;font-weight:normal;font-style:italic;letter-spacing:0px;white-space:nowrap;line-height:24.6px;color:#383838;transform:scaleX(0.8799);transform-origin:0 0;-webkit-text-stroke:0.3px currentColor;">Manager</span>
<span style="position:absolute;left:1747.6px;top:1125.9px;font-size:20.5px;font-weight:normal;font-style:italic;letter-spacing:0px;white-space:nowrap;line-height:24.6px;color:#383838;transform:scaleX(0.9058);transform-origin:0 0;-webkit-text-stroke:0.3px currentColor;">Closed</span>
<span style="position:absolute;left:1900.2px;top:1083.6px;font-size:20.5px;font-weight:normal;font-style:italic;letter-spacing:0px;white-space:nowrap;line-height:24.6px;color:#383838;transform:scaleX(0.9185);transform-origin:0 0;-webkit-text-stroke:0.3px currentColor;">5/1/2021: Test Manager</span>
<span style="position:absolute;left:1900.2px;top:1112.6px;font-size:20.5px;font-weight:normal;font-style:italic;letter-spacing:0px;white-space:nowrap;line-height:24.6px;color:#383838;transform:scaleX(0.9097);transform-origin:0 0;-webkit-text-stroke:0.3px currentColor;">attempting to free up resources,</span>
<span style="position:absolute;left:1900.2px;top:1141.6px;font-size:20.5px;font-weight:normal;font-style:italic;letter-spacing:0px;white-space:nowrap;line-height:24.6px;color:#383838;transform:scaleX(0.9031);transform-origin:0 0;-webkit-text-stroke:0.3px currentColor;">will provide an update by end of</span>
<span style="position:absolute;left:1900.2px;top:1170.6px;font-size:20.5px;font-weight:normal;font-style:italic;letter-spacing:0px;white-space:nowrap;line-height:24.6px;color:#383838;transform:scaleX(0.8849);transform-origin:0 0;-webkit-text-stroke:0.3px currentColor;">week.</span>
<span style="position:absolute;left:2228.8px;top:1125.9px;font-size:20.5px;font-weight:normal;font-style:italic;letter-spacing:0px;white-space:nowrap;line-height:24.6px;color:#383838;transform:scaleX(0.9824);transform-origin:0 0;-webkit-text-stroke:0.3px currentColor;">7/01/2021</span>
<span style="position:absolute;left:2332.2px;top:1083.6px;font-size:20.5px;font-weight:normal;font-style:italic;letter-spacing:0px;white-space:nowrap;line-height:24.6px;color:#383838;transform:scaleX(0.9103);transform-origin:0 0;-webkit-text-stroke:0.3px currentColor;">Risk 125:</span>
<span style="position:absolute;left:2332.2px;top:1112.6px;font-size:20.5px;font-weight:normal;font-style:italic;letter-spacing:0px;white-space:nowrap;line-height:24.6px;color:#383838;transform:scaleX(0.9108);transform-origin:0 0;-webkit-text-stroke:0.3px currentColor;">Security might</span>
<span style="position:absolute;left:2332.2px;top:1141.6px;font-size:20.5px;font-weight:normal;font-style:italic;letter-spacing:0px;white-space:nowrap;line-height:24.6px;color:#383838;transform:scaleX(0.9150);transform-origin:0 0;-webkit-text-stroke:0.3px currentColor;">not meet</span>
<span style="position:absolute;left:2332.2px;top:1170.6px;font-size:20.5px;font-weight:normal;font-style:italic;letter-spacing:0px;white-space:nowrap;line-height:24.6px;color:#383838;transform:scaleX(0.9327);transform-origin:0 0;-webkit-text-stroke:0.3px currentColor;">deadline</span>
<span style="position:absolute;left:394.5px;top:1230.4px;font-size:20.5px;font-weight:normal;font-style:italic;letter-spacing:0px;white-space:nowrap;line-height:24.6px;color:#383838;transform:scaleX(0.9300);transform-origin:0 0;-webkit-text-stroke:0.3px currentColor;">4</span>
<span style="position:absolute;left:501.6px;top:1230.4px;font-size:20.5px;font-weight:normal;font-style:italic;letter-spacing:0px;white-space:nowrap;line-height:24.6px;color:#383838;transform:scaleX(0.9911);transform-origin:0 0;-webkit-text-stroke:0.3px currentColor;">14/01/2021</span>
<span style="position:absolute;left:684.6px;top:1201.1px;font-size:20.5px;font-weight:normal;font-style:italic;letter-spacing:0px;white-space:nowrap;line-height:24.6px;color:#383838;transform:scaleX(0.8951);transform-origin:0 0;-webkit-text-stroke:0.3px currentColor;">Security Testing Resource</span>
<span style="position:absolute;left:684.6px;top:1230.1px;font-size:20.5px;font-weight:normal;font-style:italic;letter-spacing:0px;white-space:nowrap;line-height:24.6px;color:#383838;transform:scaleX(0.9121);transform-origin:0 0;-webkit-text-stroke:0.3px currentColor;">won&#39;t be available until 1st</span>
<span style="position:absolute;left:684.6px;top:1259.1px;font-size:20.5px;font-weight:normal;font-style:italic;letter-spacing:0px;white-space:nowrap;line-height:24.6px;color:#383838;transform:scaleX(0.9062);transform-origin:0 0;-webkit-text-stroke:0.3px currentColor;">Feb 2024</span>
<span style="position:absolute;left:1085.6px;top:1230.4px;font-size:20.5px;font-weight:normal;font-style:italic;letter-spacing:0px;white-space:nowrap;line-height:24.6px;color:#4d2a35;transform:scaleX(0.8868);transform-origin:0 0;-webkit-text-stroke:0.3px currentColor;">High</span>
<span style="position:absolute;left:1185.6px;top:1201.1px;font-size:20.5px;font-weight:normal;font-style:italic;letter-spacing:0px;white-space:nowrap;line-height:24.6px;color:#383838;transform:scaleX(0.9249);transform-origin:0 0;-webkit-text-stroke:0.3px currentColor;">Will delay implementation</span>
<span style="position:absolute;left:1185.6px;top:1230.1px;font-size:20.5px;font-weight:normal;font-style:italic;letter-spacing:0px;white-space:nowrap;line-height:24.6px;color:#383838;transform:scaleX(0.9083);transform-origin:0 0;-webkit-text-stroke:0.3px currentColor;">as Testing is on the critical</span>
<span style="position:absolute;left:1185.6px;top:1259.1px;font-size:20.5px;font-weight:normal;font-style:italic;letter-spacing:0px;white-space:nowrap;line-height:24.6px;color:#383838;transform:scaleX(0.9362);transform-origin:0 0;-webkit-text-stroke:0.3px currentColor;">path.</span>
<span style="position:absolute;left:1481.4px;top:1230.4px;font-size:20.5px;font-weight:normal;font-style:italic;letter-spacing:0px;white-space:nowrap;line-height:24.6px;color:#4d2a35;transform:scaleX(0.9824);transform-origin:0 0;-webkit-text-stroke:0.3px currentColor;">7/01/2021</span>
<span style="position:absolute;left:1583.1px;top:1215.8px;font-size:20.5px;font-weight:normal;font-style:italic;letter-spacing:0px;white-space:nowrap;line-height:24.6px;color:#383838;transform:scaleX(0.8754);transform-origin:0 0;-webkit-text-stroke:0.3px currentColor;">Eric Johns - Test</span>
<span style="position:absolute;left:1583.1px;top:1244.8px;font-size:20.5px;font-weight:normal;font-style:italic;letter-spacing:0px;white-space:nowrap;line-height:24.6px;color:#383838;transform:scaleX(0.8799);transform-origin:0 0;-webkit-text-stroke:0.3px currentColor;">Manager</span>
<span style="position:absolute;left:1747.6px;top:1230.4px;font-size:20.5px;font-weight:normal;font-style:italic;letter-spacing:0px;white-space:nowrap;line-height:24.6px;color:#383838;transform:scaleX(0.8932);transform-origin:0 0;-webkit-text-stroke:0.3px currentColor;">Open</span>
<span style="position:absolute;left:1900.2px;top:1188.1px;font-size:20.5px;font-weight:normal;font-style:italic;letter-spacing:0px;white-space:nowrap;line-height:24.6px;color:#383838;transform:scaleX(0.9185);transform-origin:0 0;-webkit-text-stroke:0.3px currentColor;">5/1/2021: Test Manager</span>
<span style="position:absolute;left:1900.2px;top:1217.1px;font-size:20.5px;font-weight:normal;font-style:italic;letter-spacing:0px;white-space:nowrap;line-height:24.6px;color:#383838;transform:scaleX(0.9097);transform-origin:0 0;-webkit-text-stroke:0.3px currentColor;">attempting to free up resources,</span>
<span style="position:absolute;left:1900.2px;top:1246.1px;font-size:20.5px;font-weight:normal;font-style:italic;letter-spacing:0px;white-space:nowrap;line-height:24.6px;color:#383838;transform:scaleX(0.9031);transform-origin:0 0;-webkit-text-stroke:0.3px currentColor;">will provide an update by end of</span>
<span style="position:absolute;left:1900.2px;top:1275.1px;font-size:20.5px;font-weight:normal;font-style:italic;letter-spacing:0px;white-space:nowrap;line-height:24.6px;color:#383838;transform:scaleX(0.8849);transform-origin:0 0;-webkit-text-stroke:0.3px currentColor;">week.</span>
<span style="position:absolute;left:2332.2px;top:1230.4px;font-size:20.5px;font-weight:normal;font-style:italic;letter-spacing:0px;white-space:nowrap;line-height:24.6px;color:#383838;transform:scaleX(0.8775);transform-origin:0 0;-webkit-text-stroke:0.3px currentColor;">N/A</span>
<span style="position:absolute;left:394.5px;top:1334.9px;font-size:20.5px;font-weight:normal;font-style:italic;letter-spacing:0px;white-space:nowrap;line-height:24.6px;color:#383838;transform:scaleX(0.9300);transform-origin:0 0;-webkit-text-stroke:0.3px currentColor;">5</span>
<span style="position:absolute;left:501.6px;top:1334.9px;font-size:20.5px;font-weight:normal;font-style:italic;letter-spacing:0px;white-space:nowrap;line-height:24.6px;color:#383838;transform:scaleX(0.9911);transform-origin:0 0;-webkit-text-stroke:0.3px currentColor;">18/01/2021</span>
<span style="position:absolute;left:684.6px;top:1305.6px;font-size:20.5px;font-weight:normal;font-style:italic;letter-spacing:0px;white-space:nowrap;line-height:24.6px;color:#383838;transform:scaleX(0.8951);transform-origin:0 0;-webkit-text-stroke:0.3px currentColor;">Security Testing Resource</span>
<span style="position:absolute;left:684.6px;top:1334.6px;font-size:20.5px;font-weight:normal;font-style:italic;letter-spacing:0px;white-space:nowrap;line-height:24.6px;color:#383838;transform:scaleX(0.9121);transform-origin:0 0;-webkit-text-stroke:0.3px currentColor;">won&#39;t be available until 1st</span>
<span style="position:absolute;left:684.6px;top:1363.6px;font-size:20.5px;font-weight:normal;font-style:italic;letter-spacing:0px;white-space:nowrap;line-height:24.6px;color:#383838;transform:scaleX(0.9062);transform-origin:0 0;-webkit-text-stroke:0.3px currentColor;">Feb 2025</span>
<span style="position:absolute;left:1085.6px;top:1334.9px;font-size:20.5px;font-weight:normal;font-style:italic;letter-spacing:0px;white-space:nowrap;line-height:24.6px;color:#383838;transform:scaleX(0.9107);transform-origin:0 0;-webkit-text-stroke:0.3px currentColor;">Amber</span>
<span style="position:absolute;left:1185.6px;top:1305.6px;font-size:20.5px;font-weight:normal;font-style:italic;letter-spacing:0px;white-space:nowrap;line-height:24.6px;color:#383838;transform:scaleX(0.9249);transform-origin:0 0;-webkit-text-stroke:0.3px currentColor;">Will delay implementation</span>
<span style="position:absolute;left:1185.6px;top:1334.6px;font-size:20.5px;font-weight:normal;font-style:italic;letter-spacing:0px;white-space:nowrap;line-height:24.6px;color:#383838;transform:scaleX(0.9083);transform-origin:0 0;-webkit-text-stroke:0.3px currentColor;">as Testing is on the critical</span>
<span style="position:absolute;left:1185.6px;top:1363.6px;font-size:20.5px;font-weight:normal;font-style:italic;letter-spacing:0px;white-space:nowrap;line-height:24.6px;color:#383838;transform:scaleX(0.9362);transform-origin:0 0;-webkit-text-stroke:0.3px currentColor;">path.</span>
<span style="position:absolute;left:1481.4px;top:1334.9px;font-size:20.5px;font-weight:normal;font-style:italic;letter-spacing:0px;white-space:nowrap;line-height:24.6px;color:#383838;transform:scaleX(0.9824);transform-origin:0 0;-webkit-text-stroke:0.3px currentColor;">8/01/2021</span>
<span style="position:absolute;left:1583.1px;top:1320.3px;font-size:20.5px;font-weight:normal;font-style:italic;letter-spacing:0px;white-space:nowrap;line-height:24.6px;color:#383838;transform:scaleX(0.8754);transform-origin:0 0;-webkit-text-stroke:0.3px currentColor;">Eric Johns - Test</span>
<span style="position:absolute;left:1583.1px;top:1349.3px;font-size:20.5px;font-weight:normal;font-style:italic;letter-spacing:0px;white-space:nowrap;line-height:24.6px;color:#383838;transform:scaleX(0.8799);transform-origin:0 0;-webkit-text-stroke:0.3px currentColor;">Manager</span>
<span style="position:absolute;left:1747.6px;top:1334.9px;font-size:20.5px;font-weight:normal;font-style:italic;letter-spacing:0px;white-space:nowrap;line-height:24.6px;color:#383838;transform:scaleX(0.8932);transform-origin:0 0;-webkit-text-stroke:0.3px currentColor;">Open</span>
<span style="position:absolute;left:1900.2px;top:1292.6px;font-size:20.5px;font-weight:normal;font-style:italic;letter-spacing:0px;white-space:nowrap;line-height:24.6px;color:#383838;transform:scaleX(0.9185);transform-origin:0 0;-webkit-text-stroke:0.3px currentColor;">5/1/2021: Test Manager</span>
<span style="position:absolute;left:1900.2px;top:1321.6px;font-size:20.5px;font-weight:normal;font-style:italic;letter-spacing:0px;white-space:nowrap;line-height:24.6px;color:#383838;transform:scaleX(0.9097);transform-origin:0 0;-webkit-text-stroke:0.3px currentColor;">attempting to free up resources,</span>
<span style="position:absolute;left:1900.2px;top:1350.6px;font-size:20.5px;font-weight:normal;font-style:italic;letter-spacing:0px;white-space:nowrap;line-height:24.6px;color:#383838;transform:scaleX(0.9031);transform-origin:0 0;-webkit-text-stroke:0.3px currentColor;">will provide an update by end of</span>
<span style="position:absolute;left:1900.2px;top:1379.6px;font-size:20.5px;font-weight:normal;font-style:italic;letter-spacing:0px;white-space:nowrap;line-height:24.6px;color:#383838;transform:scaleX(0.8849);transform-origin:0 0;-webkit-text-stroke:0.3px currentColor;">week.</span>
<span style="position:absolute;left:2216.7px;top:1334.9px;font-size:20.5px;font-weight:normal;font-style:italic;letter-spacing:0px;white-space:nowrap;line-height:24.6px;color:#383838;transform:scaleX(0.9911);transform-origin:0 0;-webkit-text-stroke:0.3px currentColor;">20/01/2021</span>
<span style="position:absolute;left:2332.2px;top:1334.9px;font-size:20.5px;font-weight:normal;font-style:italic;letter-spacing:0px;white-space:nowrap;line-height:24.6px;color:#383838;transform:scaleX(0.8775);transform-origin:0 0;-webkit-text-stroke:0.3px currentColor;">N/A</span>
<span style="position:absolute;left:394.5px;top:1439.6px;font-size:20.5px;font-weight:normal;font-style:italic;letter-spacing:0px;white-space:nowrap;line-height:24.6px;color:#383838;transform:scaleX(0.9300);transform-origin:0 0;-webkit-text-stroke:0.3px currentColor;">6</span>
<span style="position:absolute;left:501.6px;top:1439.6px;font-size:20.5px;font-weight:normal;font-style:italic;letter-spacing:0px;white-space:nowrap;line-height:24.6px;color:#383838;transform:scaleX(0.9911);transform-origin:0 0;-webkit-text-stroke:0.3px currentColor;">25/01/2021</span>
<span style="position:absolute;left:684.6px;top:1410.3px;font-size:20.5px;font-weight:normal;font-style:italic;letter-spacing:0px;white-space:nowrap;line-height:24.6px;color:#383838;transform:scaleX(0.8951);transform-origin:0 0;-webkit-text-stroke:0.3px currentColor;">Security Testing Resource</span>
<span style="position:absolute;left:684.6px;top:1439.3px;font-size:20.5px;font-weight:normal;font-style:italic;letter-spacing:0px;white-space:nowrap;line-height:24.6px;color:#383838;transform:scaleX(0.9121);transform-origin:0 0;-webkit-text-stroke:0.3px currentColor;">won&#39;t be available until 1st</span>
<span style="position:absolute;left:684.6px;top:1468.3px;font-size:20.5px;font-weight:normal;font-style:italic;letter-spacing:0px;white-space:nowrap;line-height:24.6px;color:#383838;transform:scaleX(0.9062);transform-origin:0 0;-webkit-text-stroke:0.3px currentColor;">Feb 2026</span>
<span style="position:absolute;left:1085.6px;top:1439.6px;font-size:20.5px;font-weight:normal;font-style:italic;letter-spacing:0px;white-space:nowrap;line-height:24.6px;color:#3a4a35;transform:scaleX(0.8881);transform-origin:0 0;-webkit-text-stroke:0.3px currentColor;">Low</span>
<span style="position:absolute;left:1185.6px;top:1410.3px;font-size:20.5px;font-weight:normal;font-style:italic;letter-spacing:0px;white-space:nowrap;line-height:24.6px;color:#383838;transform:scaleX(0.9249);transform-origin:0 0;-webkit-text-stroke:0.3px currentColor;">Will delay implementation</span>
<span style="position:absolute;left:1185.6px;top:1439.3px;font-size:20.5px;font-weight:normal;font-style:italic;letter-spacing:0px;white-space:nowrap;line-height:24.6px;color:#383838;transform:scaleX(0.9083);transform-origin:0 0;-webkit-text-stroke:0.3px currentColor;">as Testing is on the critical</span>
<span style="position:absolute;left:1185.6px;top:1468.3px;font-size:20.5px;font-weight:normal;font-style:italic;letter-spacing:0px;white-space:nowrap;line-height:24.6px;color:#383838;transform:scaleX(0.9362);transform-origin:0 0;-webkit-text-stroke:0.3px currentColor;">path.</span>
<span style="position:absolute;left:1469.3px;top:1439.6px;font-size:20.5px;font-weight:normal;font-style:italic;letter-spacing:0px;white-space:nowrap;line-height:24.6px;color:#383838;transform:scaleX(0.9911);transform-origin:0 0;-webkit-text-stroke:0.3px currentColor;">25/04/2024</span>
<span style="position:absolute;left:1583.1px;top:1425.0px;font-size:20.5px;font-weight:normal;font-style:italic;letter-spacing:0px;white-space:nowrap;line-height:24.6px;color:#383838;transform:scaleX(0.8754);transform-origin:0 0;-webkit-text-stroke:0.3px currentColor;">Eric Johns - Test</span>
<span style="position:absolute;left:1583.1px;top:1454.0px;font-size:20.5px;font-weight:normal;font-style:italic;letter-spacing:0px;white-space:nowrap;line-height:24.6px;color:#383838;transform:scaleX(0.8799);transform-origin:0 0;-webkit-text-stroke:0.3px currentColor;">Manager</span>
<span style="position:absolute;left:1747.6px;top:1439.6px;font-size:20.5px;font-weight:normal;font-style:italic;letter-spacing:0px;white-space:nowrap;line-height:24.6px;color:#383838;transform:scaleX(0.8932);transform-origin:0 0;-webkit-text-stroke:0.3px currentColor;">Open</span>
<span style="position:absolute;left:1900.2px;top:1397.3px;font-size:20.5px;font-weight:normal;font-style:italic;letter-spacing:0px;white-space:nowrap;line-height:24.6px;color:#383838;transform:scaleX(0.9185);transform-origin:0 0;-webkit-text-stroke:0.3px currentColor;">5/1/2021: Test Manager</span>
<span style="position:absolute;left:1900.2px;top:1426.3px;font-size:20.5px;font-weight:normal;font-style:italic;letter-spacing:0px;white-space:nowrap;line-height:24.6px;color:#383838;transform:scaleX(0.9097);transform-origin:0 0;-webkit-text-stroke:0.3px currentColor;">attempting to free up resources,</span>
<span style="position:absolute;left:1900.2px;top:1455.3px;font-size:20.5px;font-weight:normal;font-style:italic;letter-spacing:0px;white-space:nowrap;line-height:24.6px;color:#383838;transform:scaleX(0.9031);transform-origin:0 0;-webkit-text-stroke:0.3px currentColor;">will provide an update by end of</span>
<span style="position:absolute;left:1900.2px;top:1484.3px;font-size:20.5px;font-weight:normal;font-style:italic;letter-spacing:0px;white-space:nowrap;line-height:24.6px;color:#383838;transform:scaleX(0.8849);transform-origin:0 0;-webkit-text-stroke:0.3px currentColor;">week.</span>
<span style="position:absolute;left:2216.7px;top:1439.6px;font-size:20.5px;font-weight:normal;font-style:italic;letter-spacing:0px;white-space:nowrap;line-height:24.6px;color:#383838;transform:scaleX(0.9911);transform-origin:0 0;-webkit-text-stroke:0.3px currentColor;">21/01/2021</span>
<span style="position:absolute;left:2332.2px;top:1439.6px;font-size:20.5px;font-weight:normal;font-style:italic;letter-spacing:0px;white-space:nowrap;line-height:24.6px;color:#383838;transform:scaleX(0.8775);transform-origin:0 0;-webkit-text-stroke:0.3px currentColor;">N/A</span>
<span style="position:absolute;left:394.5px;top:1544.2px;font-size:20.5px;font-weight:normal;font-style:italic;letter-spacing:0px;white-space:nowrap;line-height:24.6px;color:#383838;transform:scaleX(0.9300);transform-origin:0 0;-webkit-text-stroke:0.3px currentColor;">7</span>
<span style="position:absolute;left:501.6px;top:1544.2px;font-size:20.5px;font-weight:normal;font-style:italic;letter-spacing:0px;white-space:nowrap;line-height:24.6px;color:#383838;transform:scaleX(0.9911);transform-origin:0 0;-webkit-text-stroke:0.3px currentColor;">30/01/2021</span>
<span style="position:absolute;left:684.6px;top:1514.9px;font-size:20.5px;font-weight:normal;font-style:italic;letter-spacing:0px;white-space:nowrap;line-height:24.6px;color:#383838;transform:scaleX(0.8951);transform-origin:0 0;-webkit-text-stroke:0.3px currentColor;">Security Testing Resource</span>
<span style="position:absolute;left:684.6px;top:1543.9px;font-size:20.5px;font-weight:normal;font-style:italic;letter-spacing:0px;white-space:nowrap;line-height:24.6px;color:#383838;transform:scaleX(0.9121);transform-origin:0 0;-webkit-text-stroke:0.3px currentColor;">won&#39;t be available until 1st</span>
<span style="position:absolute;left:684.6px;top:1572.9px;font-size:20.5px;font-weight:normal;font-style:italic;letter-spacing:0px;white-space:nowrap;line-height:24.6px;color:#383838;transform:scaleX(0.9062);transform-origin:0 0;-webkit-text-stroke:0.3px currentColor;">Feb 2027</span>
<span style="position:absolute;left:1085.6px;top:1544.2px;font-size:20.5px;font-weight:normal;font-style:italic;letter-spacing:0px;white-space:nowrap;line-height:24.6px;color:#4d2a35;transform:scaleX(0.8868);transform-origin:0 0;-webkit-text-stroke:0.3px currentColor;">High</span>
<span style="position:absolute;left:1185.6px;top:1514.9px;font-size:20.5px;font-weight:normal;font-style:italic;letter-spacing:0px;white-space:nowrap;line-height:24.6px;color:#383838;transform:scaleX(0.9249);transform-origin:0 0;-webkit-text-stroke:0.3px currentColor;">Will delay implementation</span>
<span style="position:absolute;left:1185.6px;top:1543.9px;font-size:20.5px;font-weight:normal;font-style:italic;letter-spacing:0px;white-space:nowrap;line-height:24.6px;color:#383838;transform:scaleX(0.9083);transform-origin:0 0;-webkit-text-stroke:0.3px currentColor;">as Testing is on the critical</span>
<span style="position:absolute;left:1185.6px;top:1572.9px;font-size:20.5px;font-weight:normal;font-style:italic;letter-spacing:0px;white-space:nowrap;line-height:24.6px;color:#383838;transform:scaleX(0.9362);transform-origin:0 0;-webkit-text-stroke:0.3px currentColor;">path.</span>
<span style="position:absolute;left:1469.3px;top:1544.2px;font-size:20.5px;font-weight:normal;font-style:italic;letter-spacing:0px;white-space:nowrap;line-height:24.6px;color:#383838;transform:scaleX(0.9911);transform-origin:0 0;-webkit-text-stroke:0.3px currentColor;">10/01/2021</span>
<span style="position:absolute;left:1583.1px;top:1529.6px;font-size:20.5px;font-weight:normal;font-style:italic;letter-spacing:0px;white-space:nowrap;line-height:24.6px;color:#383838;transform:scaleX(0.8754);transform-origin:0 0;-webkit-text-stroke:0.3px currentColor;">Eric Johns - Test</span>
<span style="position:absolute;left:1583.1px;top:1558.6px;font-size:20.5px;font-weight:normal;font-style:italic;letter-spacing:0px;white-space:nowrap;line-height:24.6px;color:#383838;transform:scaleX(0.8799);transform-origin:0 0;-webkit-text-stroke:0.3px currentColor;">Manager</span>
<span style="position:absolute;left:1747.6px;top:1544.2px;font-size:20.5px;font-weight:normal;font-style:italic;letter-spacing:0px;white-space:nowrap;line-height:24.6px;color:#383838;transform:scaleX(0.8907);transform-origin:0 0;-webkit-text-stroke:0.3px currentColor;">On Hold</span>
<span style="position:absolute;left:1900.2px;top:1501.9px;font-size:20.5px;font-weight:normal;font-style:italic;letter-spacing:0px;white-space:nowrap;line-height:24.6px;color:#383838;transform:scaleX(0.9185);transform-origin:0 0;-webkit-text-stroke:0.3px currentColor;">5/1/2021: Test Manager</span>
<span style="position:absolute;left:1900.2px;top:1530.9px;font-size:20.5px;font-weight:normal;font-style:italic;letter-spacing:0px;white-space:nowrap;line-height:24.6px;color:#383838;transform:scaleX(0.9097);transform-origin:0 0;-webkit-text-stroke:0.3px currentColor;">attempting to free up resources,</span>
<span style="position:absolute;left:1900.2px;top:1559.9px;font-size:20.5px;font-weight:normal;font-style:italic;letter-spacing:0px;white-space:nowrap;line-height:24.6px;color:#383838;transform:scaleX(0.9031);transform-origin:0 0;-webkit-text-stroke:0.3px currentColor;">will provide an update by end of</span>
<span style="position:absolute;left:1900.2px;top:1588.9px;font-size:20.5px;font-weight:normal;font-style:italic;letter-spacing:0px;white-space:nowrap;line-height:24.6px;color:#383838;transform:scaleX(0.8849);transform-origin:0 0;-webkit-text-stroke:0.3px currentColor;">week.</span>
<span style="position:absolute;left:2229.7px;top:1544.2px;font-size:20.5px;font-weight:normal;font-style:italic;letter-spacing:0px;white-space:nowrap;line-height:24.6px;color:#383838;transform:scaleX(0.9726);transform-origin:0 0;-webkit-text-stroke:0.3px currentColor;">1/02/2021</span>
<span style="position:absolute;left:2332.2px;top:1544.2px;font-size:20.5px;font-weight:normal;font-style:italic;letter-spacing:0px;white-space:nowrap;line-height:24.6px;color:#383838;transform:scaleX(0.8775);transform-origin:0 0;-webkit-text-stroke:0.3px currentColor;">N/A</span>
<span style="position:absolute;left:394.5px;top:1648.8px;font-size:20.5px;font-weight:normal;font-style:italic;letter-spacing:0px;white-space:nowrap;line-height:24.6px;color:#383838;transform:scaleX(0.9300);transform-origin:0 0;-webkit-text-stroke:0.3px currentColor;">8</span>
<span style="position:absolute;left:501.6px;top:1648.8px;font-size:20.5px;font-weight:normal;font-style:italic;letter-spacing:0px;white-space:nowrap;line-height:24.6px;color:#383838;transform:scaleX(0.9911);transform-origin:0 0;-webkit-text-stroke:0.3px currentColor;">31/01/2021</span>
<span style="position:absolute;left:684.6px;top:1619.5px;font-size:20.5px;font-weight:normal;font-style:italic;letter-spacing:0px;white-space:nowrap;line-height:24.6px;color:#383838;transform:scaleX(0.8951);transform-origin:0 0;-webkit-text-stroke:0.3px currentColor;">Security Testing Resource</span>
<span style="position:absolute;left:684.6px;top:1648.5px;font-size:20.5px;font-weight:normal;font-style:italic;letter-spacing:0px;white-space:nowrap;line-height:24.6px;color:#383838;transform:scaleX(0.9121);transform-origin:0 0;-webkit-text-stroke:0.3px currentColor;">won&#39;t be available until 1st</span>
<span style="position:absolute;left:684.6px;top:1677.5px;font-size:20.5px;font-weight:normal;font-style:italic;letter-spacing:0px;white-space:nowrap;line-height:24.6px;color:#383838;transform:scaleX(0.9062);transform-origin:0 0;-webkit-text-stroke:0.3px currentColor;">Feb 2028</span>
<span style="position:absolute;left:1085.6px;top:1648.8px;font-size:20.5px;font-weight:normal;font-style:italic;letter-spacing:0px;white-space:nowrap;line-height:24.6px;color:#383838;transform:scaleX(0.9107);transform-origin:0 0;-webkit-text-stroke:0.3px currentColor;">Amber</span>
<span style="position:absolute;left:1185.6px;top:1619.5px;font-size:20.5px;font-weight:normal;font-style:italic;letter-spacing:0px;white-space:nowrap;line-height:24.6px;color:#383838;transform:scaleX(0.9249);transform-origin:0 0;-webkit-text-stroke:0.3px currentColor;">Will delay implementation</span>
<span style="position:absolute;left:1185.6px;top:1648.5px;font-size:20.5px;font-weight:normal;font-style:italic;letter-spacing:0px;white-space:nowrap;line-height:24.6px;color:#383838;transform:scaleX(0.9083);transform-origin:0 0;-webkit-text-stroke:0.3px currentColor;">as Testing is on the critical</span>
<span style="position:absolute;left:1185.6px;top:1677.5px;font-size:20.5px;font-weight:normal;font-style:italic;letter-spacing:0px;white-space:nowrap;line-height:24.6px;color:#383838;transform:scaleX(0.9362);transform-origin:0 0;-webkit-text-stroke:0.3px currentColor;">path.</span>
<span style="position:absolute;left:1469.3px;top:1648.8px;font-size:20.5px;font-weight:normal;font-style:italic;letter-spacing:0px;white-space:nowrap;line-height:24.6px;color:#383838;transform:scaleX(1.0060);transform-origin:0 0;-webkit-text-stroke:0.3px currentColor;">11/01/2021</span>
<span style="position:absolute;left:1583.1px;top:1634.2px;font-size:20.5px;font-weight:normal;font-style:italic;letter-spacing:0px;white-space:nowrap;line-height:24.6px;color:#383838;transform:scaleX(0.8754);transform-origin:0 0;-webkit-text-stroke:0.3px currentColor;">Eric Johns - Test</span>
<span style="position:absolute;left:1583.1px;top:1663.2px;font-size:20.5px;font-weight:normal;font-style:italic;letter-spacing:0px;white-space:nowrap;line-height:24.6px;color:#383838;transform:scaleX(0.8799);transform-origin:0 0;-webkit-text-stroke:0.3px currentColor;">Manager</span>
<span style="position:absolute;left:1747.6px;top:1648.8px;font-size:20.5px;font-weight:normal;font-style:italic;letter-spacing:0px;white-space:nowrap;line-height:24.6px;color:#383838;transform:scaleX(0.8932);transform-origin:0 0;-webkit-text-stroke:0.3px currentColor;">Open</span>
<span style="position:absolute;left:1900.2px;top:1606.5px;font-size:20.5px;font-weight:normal;font-style:italic;letter-spacing:0px;white-space:nowrap;line-height:24.6px;color:#383838;transform:scaleX(0.9185);transform-origin:0 0;-webkit-text-stroke:0.3px currentColor;">5/1/2021: Test Manager</span>
<span style="position:absolute;left:1900.2px;top:1635.5px;font-size:20.5px;font-weight:normal;font-style:italic;letter-spacing:0px;white-space:nowrap;line-height:24.6px;color:#383838;transform:scaleX(0.9097);transform-origin:0 0;-webkit-text-stroke:0.3px currentColor;">attempting to free up resources,</span>
<span style="position:absolute;left:1900.2px;top:1664.5px;font-size:20.5px;font-weight:normal;font-style:italic;letter-spacing:0px;white-space:nowrap;line-height:24.6px;color:#383838;transform:scaleX(0.9031);transform-origin:0 0;-webkit-text-stroke:0.3px currentColor;">will provide an update by end of</span>
<span style="position:absolute;left:1900.2px;top:1693.5px;font-size:20.5px;font-weight:normal;font-style:italic;letter-spacing:0px;white-space:nowrap;line-height:24.6px;color:#383838;transform:scaleX(0.8849);transform-origin:0 0;-webkit-text-stroke:0.3px currentColor;">week.</span>
<span style="position:absolute;left:2332.2px;top:1648.8px;font-size:20.5px;font-weight:normal;font-style:italic;letter-spacing:0px;white-space:nowrap;line-height:24.6px;color:#383838;transform:scaleX(0.8775);transform-origin:0 0;-webkit-text-stroke:0.3px currentColor;">N/A</span>
<span style="position:absolute;left:394.5px;top:1753.5px;font-size:20.5px;font-weight:normal;font-style:italic;letter-spacing:0px;white-space:nowrap;line-height:24.6px;color:#383838;transform:scaleX(0.9300);transform-origin:0 0;-webkit-text-stroke:0.3px currentColor;">9</span>
<span style="position:absolute;left:508.1px;top:1753.5px;font-size:20.5px;font-weight:normal;font-style:italic;letter-spacing:0px;white-space:nowrap;line-height:24.6px;color:#383838;transform:scaleX(0.9726);transform-origin:0 0;-webkit-text-stroke:0.3px currentColor;">1/02/2021</span>
<span style="position:absolute;left:684.6px;top:1724.2px;font-size:20.5px;font-weight:normal;font-style:italic;letter-spacing:0px;white-space:nowrap;line-height:24.6px;color:#383838;transform:scaleX(0.8951);transform-origin:0 0;-webkit-text-stroke:0.3px currentColor;">Security Testing Resource</span>
<span style="position:absolute;left:684.6px;top:1753.2px;font-size:20.5px;font-weight:normal;font-style:italic;letter-spacing:0px;white-space:nowrap;line-height:24.6px;color:#383838;transform:scaleX(0.9121);transform-origin:0 0;-webkit-text-stroke:0.3px currentColor;">won&#39;t be available until 1st</span>
<span style="position:absolute;left:684.6px;top:1782.2px;font-size:20.5px;font-weight:normal;font-style:italic;letter-spacing:0px;white-space:nowrap;line-height:24.6px;color:#383838;transform:scaleX(0.9062);transform-origin:0 0;-webkit-text-stroke:0.3px currentColor;">Feb 2029</span>
<span style="position:absolute;left:1085.6px;top:1753.5px;font-size:20.5px;font-weight:normal;font-style:italic;letter-spacing:0px;white-space:nowrap;line-height:24.6px;color:#383838;transform:scaleX(0.8868);transform-origin:0 0;-webkit-text-stroke:0.3px currentColor;">High</span>
<span style="position:absolute;left:1185.6px;top:1724.2px;font-size:20.5px;font-weight:normal;font-style:italic;letter-spacing:0px;white-space:nowrap;line-height:24.6px;color:#383838;transform:scaleX(0.9249);transform-origin:0 0;-webkit-text-stroke:0.3px currentColor;">Will delay implementation</span>
<span style="position:absolute;left:1185.6px;top:1753.2px;font-size:20.5px;font-weight:normal;font-style:italic;letter-spacing:0px;white-space:nowrap;line-height:24.6px;color:#383838;transform:scaleX(0.9083);transform-origin:0 0;-webkit-text-stroke:0.3px currentColor;">as Testing is on the critical</span>
<span style="position:absolute;left:1185.6px;top:1782.2px;font-size:20.5px;font-weight:normal;font-style:italic;letter-spacing:0px;white-space:nowrap;line-height:24.6px;color:#383838;transform:scaleX(0.9362);transform-origin:0 0;-webkit-text-stroke:0.3px currentColor;">path.</span>
<span style="position:absolute;left:1469.3px;top:1753.5px;font-size:20.5px;font-weight:normal;font-style:italic;letter-spacing:0px;white-space:nowrap;line-height:24.6px;color:#383838;transform:scaleX(0.9911);transform-origin:0 0;-webkit-text-stroke:0.3px currentColor;">12/01/2021</span>
<span style="position:absolute;left:1583.1px;top:1738.9px;font-size:20.5px;font-weight:normal;font-style:italic;letter-spacing:0px;white-space:nowrap;line-height:24.6px;color:#383838;transform:scaleX(0.8754);transform-origin:0 0;-webkit-text-stroke:0.3px currentColor;">Eric Johns - Test</span>
<span style="position:absolute;left:1583.1px;top:1767.9px;font-size:20.5px;font-weight:normal;font-style:italic;letter-spacing:0px;white-space:nowrap;line-height:24.6px;color:#383838;transform:scaleX(0.8799);transform-origin:0 0;-webkit-text-stroke:0.3px currentColor;">Manager</span>
<span style="position:absolute;left:1747.6px;top:1753.5px;font-size:20.5px;font-weight:normal;font-style:italic;letter-spacing:0px;white-space:nowrap;line-height:24.6px;color:#383838;transform:scaleX(0.9058);transform-origin:0 0;-webkit-text-stroke:0.3px currentColor;">Closed</span>
<span style="position:absolute;left:1900.2px;top:1711.2px;font-size:20.5px;font-weight:normal;font-style:italic;letter-spacing:0px;white-space:nowrap;line-height:24.6px;color:#383838;transform:scaleX(0.9185);transform-origin:0 0;-webkit-text-stroke:0.3px currentColor;">5/1/2021: Test Manager</span>
<span style="position:absolute;left:1900.2px;top:1740.2px;font-size:20.5px;font-weight:normal;font-style:italic;letter-spacing:0px;white-space:nowrap;line-height:24.6px;color:#383838;transform:scaleX(0.9097);transform-origin:0 0;-webkit-text-stroke:0.3px currentColor;">attempting to free up resources,</span>
<span style="position:absolute;left:1900.2px;top:1769.2px;font-size:20.5px;font-weight:normal;font-style:italic;letter-spacing:0px;white-space:nowrap;line-height:24.6px;color:#383838;transform:scaleX(0.9031);transform-origin:0 0;-webkit-text-stroke:0.3px currentColor;">will provide an update by end of</span>
<span style="position:absolute;left:1900.2px;top:1798.2px;font-size:20.5px;font-weight:normal;font-style:italic;letter-spacing:0px;white-space:nowrap;line-height:24.6px;color:#383838;transform:scaleX(0.8849);transform-origin:0 0;-webkit-text-stroke:0.3px currentColor;">week.</span>
<span style="position:absolute;left:2332.2px;top:1753.5px;font-size:20.5px;font-weight:normal;font-style:italic;letter-spacing:0px;white-space:nowrap;line-height:24.6px;color:#383838;transform:scaleX(0.8775);transform-origin:0 0;-webkit-text-stroke:0.3px currentColor;">N/A</span>
<span style="position:absolute;left:328.1px;top:914.5px;font-size:19.5px;font-weight:bold;font-style:normal;letter-spacing:0px;white-space:nowrap;line-height:23.4px;color:#f4fbff;transform:scaleX(0.9223);transform-origin:0 0;">Issue #</span>
<span style="position:absolute;left:480.7px;top:914.5px;font-size:19.5px;font-weight:bold;font-style:normal;letter-spacing:0px;white-space:nowrap;line-height:23.4px;color:#f4fbff;transform:scaleX(0.9131);transform-origin:0 0;">Date raised</span>
<span style="position:absolute;left:633.7px;top:914.5px;font-size:19.5px;font-weight:bold;font-style:normal;letter-spacing:0px;white-space:nowrap;line-height:23.4px;color:#f4fbff;transform:scaleX(0.8929);transform-origin:0 0;">Flag</span>
<span style="position:absolute;left:683.5px;top:914.5px;font-size:19.5px;font-weight:bold;font-style:normal;letter-spacing:0px;white-space:nowrap;line-height:23.4px;color:#f4fbff;transform:scaleX(0.9258);transform-origin:0 0;">Issue Description</span>
<span style="position:absolute;left:920.0px;top:914.5px;font-size:19.5px;font-weight:bold;font-style:normal;letter-spacing:0px;white-space:nowrap;line-height:23.4px;color:#f4fbff;transform:scaleX(0.9169);transform-origin:0 0;">Issue Category</span>
<span style="position:absolute;left:1084.5px;top:914.5px;font-size:19.5px;font-weight:bold;font-style:normal;letter-spacing:0px;white-space:nowrap;line-height:23.4px;color:#f4fbff;transform:scaleX(0.9259);transform-origin:0 0;">Impact</span>
<span style="position:absolute;left:1184.5px;top:914.5px;font-size:19.5px;font-weight:bold;font-style:normal;letter-spacing:0px;white-space:nowrap;line-height:23.4px;color:#f4fbff;transform:scaleX(0.9228);transform-origin:0 0;">Impact Description</span>
<span style="position:absolute;left:1429.1px;top:914.5px;font-size:19.5px;font-weight:bold;font-style:normal;letter-spacing:0px;white-space:nowrap;line-height:23.4px;color:#f4fbff;transform:scaleX(0.9050);transform-origin:0 0;">Due Date</span>
<span style="position:absolute;left:1582.0px;top:914.5px;font-size:19.5px;font-weight:bold;font-style:normal;letter-spacing:0px;white-space:nowrap;line-height:23.4px;color:#f4fbff;transform:scaleX(0.9656);transform-origin:0 0;">Owner</span>
<span style="position:absolute;left:1746.5px;top:914.5px;font-size:19.5px;font-weight:bold;font-style:normal;letter-spacing:0px;white-space:nowrap;line-height:23.4px;color:#f4fbff;transform:scaleX(0.9009);transform-origin:0 0;">Status</span>
<span style="position:absolute;left:1899.1px;top:914.5px;font-size:19.5px;font-weight:bold;font-style:normal;letter-spacing:0px;white-space:nowrap;line-height:23.4px;color:#f4fbff;transform:scaleX(0.9199);transform-origin:0 0;">Update</span>
<span style="position:absolute;left:2176.1px;top:914.5px;font-size:19.5px;font-weight:bold;font-style:normal;letter-spacing:0px;white-space:nowrap;line-height:23.4px;color:#f4fbff;transform:scaleX(0.9432);transform-origin:0 0;">Date Closed</span>
<span style="position:absolute;left:2331.1px;top:914.5px;font-size:19.5px;font-weight:bold;font-style:normal;letter-spacing:0px;white-space:nowrap;line-height:23.4px;color:#f4fbff;transform:scaleX(0.8949);transform-origin:0 0;">Related Risk #</span>
<svg style="position:absolute;left:0;top:0" width="2700" height="2025" viewBox="0 0 2700 2025" fill="none" stroke="#595959">
<line x1="516.7" y1="547.7" x2="516.7" y2="646" stroke-width="6.1"/><circle cx="516.75" cy="654.5" r="8.9" stroke-width="5.8"/>
<line x1="2270.9" y1="547.7" x2="2270.9" y2="646" stroke-width="6.1"/><circle cx="2270.9" cy="654.4" r="8.9" stroke-width="5.8"/>
<line x1="1400.1" y1="552.8" x2="1397.8" y2="916" stroke-width="8.1"/>
<polyline points="1385.3,903.6 1397.8,918.6 1410.6,903.6" stroke-width="7.3" stroke-linecap="round" stroke-linejoin="round"/>
<polyline points="658.6,701.4 662.4,705.1 669.8,698" stroke="#555" stroke-width="1.7" fill="none"/><line x1="672.0" y1="703.4" x2="684.0" y2="703.4" stroke="#333" stroke-width="1.7"/><polyline points="658.6,709.4 662.4,713.1 669.8,706.0" stroke="#666" stroke-width="1.7" fill="none"/><line x1="672.0" y1="711.4" x2="684.0" y2="711.4" stroke="#888" stroke-width="1.7"/><polyline points="658.6,717.1999999999999 662.4,720.9 669.8,713.8" stroke="#666" stroke-width="1.7" fill="none"/><line x1="672.0" y1="719.1999999999999" x2="684.0" y2="719.1999999999999" stroke="#888" stroke-width="1.7"/><path d="M709.8 698.8 H733.8 V702.3 L721.3 712.5 V718.5 L717.9 722.8 V712.5 L709.8 702.3 Z" fill="#efefef" stroke="#c2c2c2" stroke-width="1.6" stroke-linejoin="round"/><path d="M724.6 713.8 L734.0 723.2 M734.0 713.8 L724.6 723.2" stroke="#cfcfcf" stroke-width="1.6" fill="none"/><polyline points="2397.9,701.4 2401.7,705.1 2409.1,698" stroke="#555" stroke-width="1.7" fill="none"/><line x1="2411.3" y1="703.4" x2="2423.3" y2="703.4" stroke="#333" stroke-width="1.7"/><polyline points="2397.9,709.4 2401.7,713.1 2409.1,706.0" stroke="#666" stroke-width="1.7" fill="none"/><line x1="2411.3" y1="711.4" x2="2423.3" y2="711.4" stroke="#888" stroke-width="1.7"/><polyline points="2397.9,717.1999999999999 2401.7,720.9 2409.1,713.8" stroke="#666" stroke-width="1.7" fill="none"/><line x1="2411.3" y1="719.1999999999999" x2="2423.3" y2="719.1999999999999" stroke="#888" stroke-width="1.7"/><path d="M2449.1 698.8 H2473.1 V702.3 L2460.6 712.5 V718.5 L2457.2 722.8 V712.5 L2449.1 702.3 Z" fill="#efefef" stroke="#c2c2c2" stroke-width="1.6" stroke-linejoin="round"/><path d="M2463.9 713.8 L2473.3 723.2 M2473.3 713.8 L2463.9 723.2" stroke="#cfcfcf" stroke-width="1.6" fill="none"/>
</svg>
</div></body></html>
